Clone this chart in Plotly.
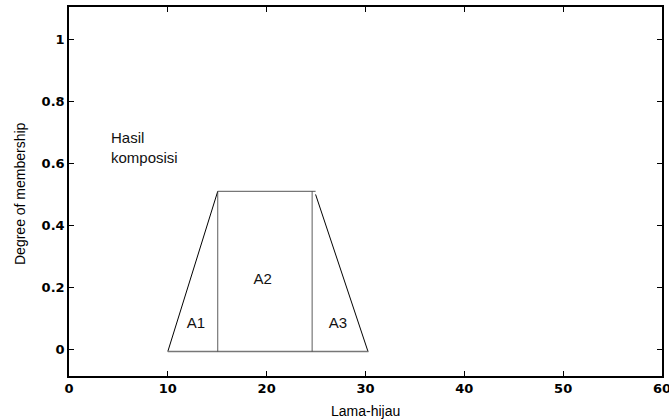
import plotly.graph_objects as go

# Data
left_x = [10, 15.05]
left_y = [-0.005, 0.51]
top_x = [15.05, 24.95]
top_y = [0.51, 0.51]
right_x = [24.95, 30.25]
right_y = [0.50, -0.005]
v1_x = [15.05, 15.05]
v1_y = [-0.005, 0.51]
v2_x = [24.6, 24.6]
v2_y = [-0.005, 0.51]
bottom_x = [10, 30.3]
bottom_y = [-0.005, -0.005]

labels = ["A1", "A2", "A3"]
label_x = [12.85, 19.6, 27.2]
label_y = [0.084, 0.225, 0.084]

x_ticks = [0, 10, 20, 30, 40, 50, 60]
y_ticks = [0, 0.2, 0.4, 0.6, 0.8, 1]
y_tick_text = ["0", "0.2", "0.4", "0.6", "0.8", "1"]

fig = go.Figure()
segs = [
    (left_x, left_y, "black", 1),
    (right_x, right_y, "black", 1),
    (top_x, top_y, "#777777", 1.2),
    (bottom_x, bottom_y, "#777777", 1.5),
    (v1_x, v1_y, "#333333", 0.8),
    (v2_x, v2_y, "#333333", 0.8),
]
for xs, ys, c, w in segs:
    fig.add_trace(go.Scatter(x=xs, y=ys, mode="lines",
                             line=dict(color=c, width=w),
                             showlegend=False, hoverinfo="skip"))

fig.add_trace(go.Scatter(x=label_x, y=label_y, mode="text", text=labels,
                         textfont=dict(family="Liberation Sans", size=15, color="#111"),
                         showlegend=False, hoverinfo="skip"))

axis_common = dict(showgrid=False, zeroline=False, showline=True, linecolor="black",
                   linewidth=1.5, mirror="ticks", ticks="inside", ticklen=5,
                   tickcolor="black", ticklabeloverflow="allow", automargin=False,
                   tickfont=dict(family="DejaVu Sans", size=13, color="black", weight="bold"))

fig.update_xaxes(range=[0, 60], tickvals=x_ticks, **axis_common)
fig.update_yaxes(range=[-0.084, 1.103], tickvals=y_ticks, ticktext=y_tick_text, **axis_common)

plot_w = 669 - 69 - 7
plot_h = 420 - 7 - 44

annots = [
    dict(x=4.0, y=0.65, xref="x", yref="y", text="Hasil<br>komposisi",
         showarrow=False, xanchor="left", yanchor="middle", align="left",
         font=dict(family="Liberation Sans", size=15, color="#111")),
    dict(x=(20 - 69) / plot_w, y=(376 - 194) / plot_h, xref="paper", yref="paper",
         text="Degree of membership",
         showarrow=False, textangle=-90, xanchor="center", yanchor="middle",
         font=dict(family="Liberation Sans", size=14, color="black")),
    dict(x=0.5, y=-(401 - 376) / plot_h, xref="paper", yref="paper", text="Lama-hijau",
         showarrow=False, xanchor="center", yanchor="top",
         font=dict(family="Liberation Sans", size=14, color="black")),
]

fig.update_layout(
    width=669, height=420,
    margin=dict(l=69, r=7, t=7, b=44, autoexpand=False),
    plot_bgcolor="white", paper_bgcolor="white",
    annotations=annots,
)

fig.write_html("out.html")
